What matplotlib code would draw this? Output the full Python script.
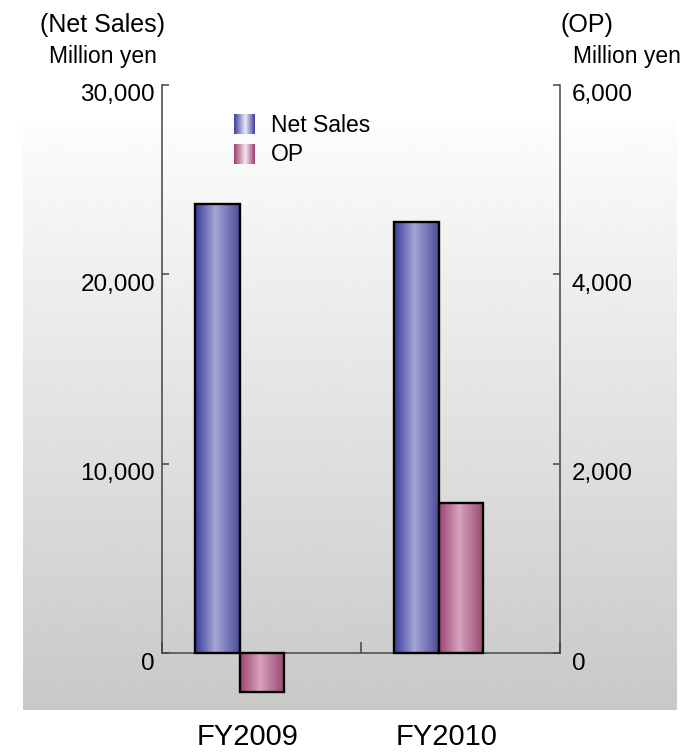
import numpy as np
import matplotlib.pyplot as plt
from matplotlib.colors import LinearSegmentedColormap
from matplotlib.transforms import ScaledTranslation, blended_transform_factory

plt.rcParams['font.family'] = ['Liberation Sans', 'DejaVu Sans']

years = ['FY2009', 'FY2010']
net_sales = [23700, 22750]      # million yen, left axis
op_income = [-410, 1580]        # million yen, right axis
sales_ticks = [0, 10000, 20000, 30000]
op_ticks = [0, 2000, 4000, 6000]

W, H = 695, 752
fig = plt.figure(figsize=(W / 100, H / 100), dpi=100)


def px_box(x0, y0, x1, y1):
    # pixel box (top-left origin) -> figure fraction rect
    return [x0 / W, 1 - y1 / H, (x1 - x0) / W, (y1 - y0) / H]


# grey backdrop fading to white at the top
bg = fig.add_axes(px_box(23, 120, 677, 710), zorder=0)
bg.imshow(np.linspace(0.99, 0.785, 256)[:, None], cmap='gray', vmin=0, vmax=1,
          aspect='auto', extent=[0, 1, 0, 1], interpolation='bilinear')
bg.axis('off')

ns_cmap = LinearSegmentedColormap.from_list(
    'ns', [(0.0, (0.22, 0.23, 0.60)), (0.45, (0.65, 0.65, 0.84)), (1.0, (0.30, 0.30, 0.60))])
op_cmap = LinearSegmentedColormap.from_list(
    'op', [(0.0, (0.62, 0.26, 0.44)), (0.45, (0.84, 0.64, 0.74)), (1.0, (0.60, 0.28, 0.45))])
ns_leg = LinearSegmentedColormap.from_list(
    'nsl', [(0.0, (0.24, 0.24, 0.62)), (0.55, (0.92, 0.92, 0.97)), (1.0, (0.24, 0.24, 0.62))])
op_leg = LinearSegmentedColormap.from_list(
    'opl', [(0.0, (0.62, 0.24, 0.44)), (0.55, (0.97, 0.91, 0.94)), (1.0, (0.62, 0.24, 0.44))])
grad = np.linspace(0, 1, 128)[None, :]

ax = fig.add_axes(px_box(162, 85, 560, 653), zorder=1)
ax.patch.set_visible(False)
ax2 = ax.twinx()
ax2.patch.set_visible(False)

group_off = 0.39
bar_w = 0.223


def gradient_bar(a, x, h, cmap):
    bar = a.bar(x, h, bar_w, facecolor='none', edgecolor='black',
                linewidth=1.7, clip_on=False, zorder=3)[0]
    im = a.imshow(grad, cmap=cmap, aspect='auto', interpolation='bilinear',
                  extent=[x - bar_w / 2, x + bar_w / 2, min(0, h), max(0, h)], zorder=2)
    im.set_clip_path(bar)


for i in range(len(years)):
    gradient_bar(ax, i + group_off - bar_w / 2, net_sales[i], ns_cmap)
    gradient_bar(ax2, i + group_off + bar_w / 2, op_income[i], op_cmap)

ax.set_xlim(0, 2)
ax.set_ylim(0, 30000)
ax2.set_ylim(0, 6000)

axis_col = '#444444'
for s in ['top', 'right']:
    ax.spines[s].set_visible(False)
for s in ['top', 'left', 'bottom']:
    ax2.spines[s].set_visible(False)
for sp in [ax.spines['left'], ax.spines['bottom'], ax2.spines['right']]:
    sp.set_color(axis_col)
    sp.set_linewidth(1.1)

ax.set_xticks([0, 1, 2], labels=[])
ax.tick_params(axis='x', direction='in', length=8, color=axis_col, width=1.1)
ax.set_yticks(sales_ticks, labels=[f'{v:,}' for v in sales_ticks])
ax.tick_params(axis='y', direction='in', length=5, pad=5, labelsize=17.5,
               color=axis_col, width=1.1)
ax2.set_yticks(op_ticks, labels=[f'{v:,}' for v in op_ticks])
ax2.tick_params(axis='y', direction='in', length=5, pad=8.6, labelsize=17.5,
                color=axis_col, width=1.1)

# tick labels sit a little below their ticks
shift = ScaledTranslation(0, -0.08, fig.dpi_scale_trans)
for lab in ax.get_yticklabels() + ax2.get_yticklabels():
    lab.set_transform(lab.get_transform() + shift)

# category names under the plot
cat_trans = blended_transform_factory(ax.transData, fig.transFigure)
for i, name in enumerate(years):
    ax.text(i + 0.43, 7 / H, name, transform=cat_trans, ha='center',
            va='baseline', fontsize=21)

# axis headers
fig.text(102 / W, 1 - 32 / H, '(Net Sales)', ha='center', va='baseline', fontsize=18)
fig.text(103 / W, 1 - 63 / H, 'Million yen', ha='center', va='baseline', fontsize=16.5)
fig.text(587 / W, 1 - 32 / H, '(OP)', ha='center', va='baseline', fontsize=18)
fig.text(627 / W, 1 - 63 / H, 'Million yen', ha='center', va='baseline', fontsize=16.5)

# legend
for (y0, y1), cm, name, base in [((114, 134), ns_leg, 'Net Sales', 132),
                                 ((144, 164), op_leg, 'OP', 161)]:
    la = fig.add_axes(px_box(234, y0, 255, y1), zorder=2)
    la.imshow(grad, cmap=cm, aspect='auto', interpolation='bilinear')
    la.axis('off')
    fig.text(271 / W, 1 - base / H, name, ha='left', va='baseline', fontsize=16.5)

fig.savefig('out.png', dpi=100)
